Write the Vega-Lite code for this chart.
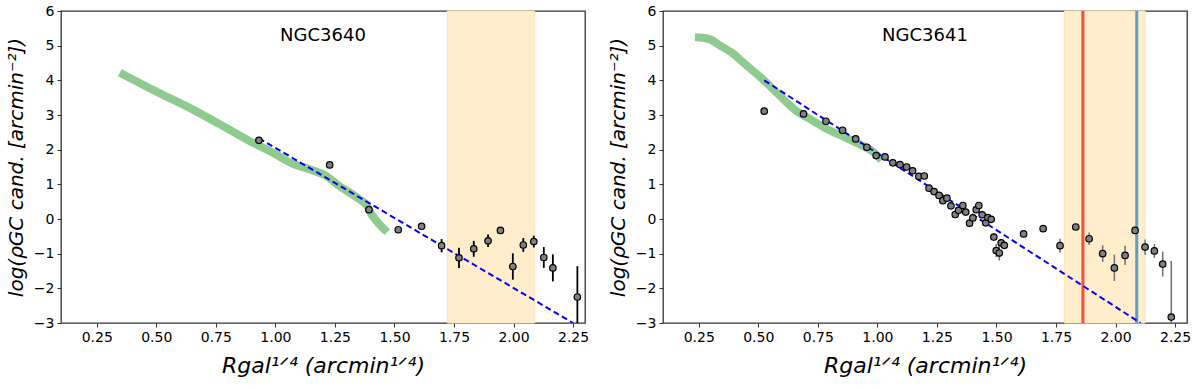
{
  "$schema": "https://vega.github.io/schema/vega-lite/v6.json",
  "background": "white",
  "padding": {"left": 5, "top": 3, "right": 5, "bottom": 5},
  "spacing": 78,
  "bounds": "flush",
  "config": {
    "view": {"stroke": "#333333", "strokeWidth": 1.3},
    "font": "DejaVu Sans",
    "axis": {
      "domain": false,
      "grid": false,
      "ticks": true,
      "tickColor": "#333333",
      "tickSize": 4,
      "tickWidth": 1,
      "labelFont": "DejaVu Sans",
      "labelFontSize": 14,
      "labelColor": "black",
      "labelPadding": 3,
      "labelOverlap": false,
      "labelBound": false,
      "labelFlush": false,
      "titleFont": "DejaVu Sans",
      "titleFontSize": 20,
      "titleFontWeight": "normal",
      "titleFontStyle": "italic",
      "titleColor": "black"
    }
  },
  "datasets": {
    "shade1": [{"x": 1.722, "x2": 2.089}],
    "shade2": [{"x": 1.786, "x2": 2.124}],
    "vlines": [{"x": 1.863, "kind": "red"}, {"x": 2.089, "kind": "blue"}],
    "label1": [{"x": 1.2, "y": 5.28, "label": "NGC3640"}],
    "label2": [{"x": 1.2, "y": 5.28, "label": "NGC3641"}],
    "fit1": [{"x": 0.931, "y": 2.33}, {"x": 2.25, "y": -3.0}],
    "fit2": [{"x": 0.525, "y": 4.0}, {"x": 2.105, "y": -3.0}],
    "curve1": [
      {"x": 0.347, "y": 4.22}, {"x": 0.511, "y": 3.64}, {"x": 0.65, "y": 3.17}, {"x": 0.791, "y": 2.64},
      {"x": 0.889, "y": 2.26}, {"x": 0.987, "y": 1.92}, {"x": 1.071, "y": 1.6}, {"x": 1.141, "y": 1.44},
      {"x": 1.211, "y": 1.25}, {"x": 1.267, "y": 0.96}, {"x": 1.351, "y": 0.58}, {"x": 1.379, "y": 0.43},
      {"x": 1.407, "y": 0.1}, {"x": 1.435, "y": -0.14}, {"x": 1.47, "y": -0.38}
    ],
    "curve2": [
      {"x": 0.234, "y": 5.24}, {"x": 0.29, "y": 5.2}, {"x": 0.34, "y": 5.0}, {"x": 0.388, "y": 4.8}, {"x": 0.444, "y": 4.47},
      {"x": 0.514, "y": 4.06}, {"x": 0.584, "y": 3.6}, {"x": 0.654, "y": 3.15}, {"x": 0.723, "y": 2.86},
      {"x": 0.793, "y": 2.58}, {"x": 0.863, "y": 2.36}, {"x": 0.933, "y": 2.13}, {"x": 0.989, "y": 1.9},
      {"x": 1.017, "y": 1.7}
    ],
    "pts1": [
      {"x": 0.931, "y": 2.27}, {"x": 1.228, "y": 1.56}, {"x": 1.393, "y": 0.27},
      {"x": 1.516, "y": -0.31, "lo": -0.39, "hi": -0.23},
      {"x": 1.614, "y": -0.21, "lo": -0.29, "hi": -0.13},
      {"x": 1.698, "y": -0.77, "lo": -0.96, "hi": -0.58},
      {"x": 1.771, "y": -1.12, "lo": -1.41, "hi": -0.83},
      {"x": 1.833, "y": -0.86, "lo": -1.09, "hi": -0.63},
      {"x": 1.893, "y": -0.63, "lo": -0.81, "hi": -0.45},
      {"x": 1.945, "y": -0.33, "lo": -0.43, "hi": -0.23},
      {"x": 1.997, "y": -1.37, "lo": -1.75, "hi": -0.99},
      {"x": 2.041, "y": -0.75, "lo": -0.95, "hi": -0.55},
      {"x": 2.085, "y": -0.65, "lo": -0.82, "hi": -0.48},
      {"x": 2.127, "y": -1.11, "lo": -1.41, "hi": -0.81},
      {"x": 2.165, "y": -1.41, "lo": -1.8, "hi": -1.02},
      {"x": 2.268, "y": -2.25, "lo": -3.4, "hi": -1.36}
    ],
    "pts2": [
      {"x": 0.525, "y": 3.11}, {"x": 0.69, "y": 3.03}, {"x": 0.784, "y": 2.82}, {"x": 0.854, "y": 2.56},
      {"x": 0.909, "y": 2.31}, {"x": 0.956, "y": 2.07}, {"x": 0.995, "y": 1.83}, {"x": 1.032, "y": 1.79},
      {"x": 1.065, "y": 1.62}, {"x": 1.095, "y": 1.57}, {"x": 1.123, "y": 1.5}, {"x": 1.148, "y": 1.39},
      {"x": 1.174, "y": 1.23}, {"x": 1.197, "y": 1.24}, {"x": 1.217, "y": 0.89}, {"x": 1.238, "y": 0.79},
      {"x": 1.259, "y": 0.68}, {"x": 1.275, "y": 0.53}, {"x": 1.292, "y": 0.6}, {"x": 1.309, "y": 0.38},
      {"x": 1.327, "y": 0.13}, {"x": 1.341, "y": 0.25}, {"x": 1.359, "y": 0.39}, {"x": 1.371, "y": 0.2},
      {"x": 1.387, "y": -0.12}, {"x": 1.401, "y": 0.03}, {"x": 1.415, "y": 0.27}, {"x": 1.426, "y": 0.39},
      {"x": 1.44, "y": 0.12}, {"x": 1.455, "y": -0.11}, {"x": 1.464, "y": 0.04}, {"x": 1.478, "y": -0.01},
      {"x": 1.489, "y": -0.52, "lo": -0.62, "hi": -0.42},
      {"x": 1.499, "y": -0.91, "lo": -1.1, "hi": -0.72},
      {"x": 1.512, "y": -0.98, "lo": -1.2, "hi": -0.76},
      {"x": 1.52, "y": -0.69, "lo": -0.79, "hi": -0.59},
      {"x": 1.533, "y": -0.76, "lo": -0.84, "hi": -0.68},
      {"x": 1.614, "y": -0.43, "lo": -0.51, "hi": -0.35},
      {"x": 1.696, "y": -0.28},
      {"x": 1.767, "y": -0.77, "lo": -0.97, "hi": -0.57},
      {"x": 1.833, "y": -0.23},
      {"x": 1.889, "y": -0.57, "lo": -0.75, "hi": -0.39},
      {"x": 1.946, "y": -1.0, "lo": -1.24, "hi": -0.76},
      {"x": 1.995, "y": -1.41, "lo": -1.79, "hi": -1.03},
      {"x": 2.04, "y": -1.05, "lo": -1.33, "hi": -0.77},
      {"x": 2.082, "y": -0.33, "lo": -0.41, "hi": -0.25},
      {"x": 2.124, "y": -0.81, "lo": -1.03, "hi": -0.59},
      {"x": 2.163, "y": -0.92, "lo": -1.12, "hi": -0.72},
      {"x": 2.198, "y": -1.3, "lo": -1.66, "hi": -0.94},
      {"x": 2.234, "y": -2.83, "lo": -4.4, "hi": -1.21}
    ]
  },
  "hconcat": [
    {
      "width": 524,
      "height": 312,
      "layer": [
        {"data": {"name": "shade1"}, "mark": {"type": "rect", "fill": "#ffedcc", "stroke": "#fde4b4", "strokeWidth": 1},
          "encoding": {
            "x": {"field": "x", "type": "quantitative", "scale": {"domain": [0.1, 2.3], "nice": false, "zero": false},
              "axis": {"values": [0.25, 0.5, 0.75, 1.0, 1.25, 1.5, 1.75, 2.0, 2.25], "format": ".2f", "title": "Rgal¹ᐟ⁴ (arcmin¹ᐟ⁴)", "titleFontSize": 22, "titlePadding": 11}},
            "x2": {"field": "x2"}}},
        {"data": {"name": "curve1"}, "mark": {"type": "line", "color": "#8fcb8f", "strokeWidth": 8, "clip": true, "interpolate": "monotone"},
          "encoding": {
            "x": {"field": "x", "type": "quantitative", "title": "Rgal¹ᐟ⁴ (arcmin¹ᐟ⁴)"},
            "y": {"field": "y", "type": "quantitative", "scale": {"domain": [-3, 6], "nice": false, "zero": false},
              "axis": {"values": [-3, -2, -1, 0, 1, 2, 3, 4, 5, 6], "labelOverlap": false, "labelExpr": "replace(datum.label, '-', '−')", "title": "log(ρGC cand. [arcmin⁻²])", "titlePadding": 7}}}},
        {"data": {"name": "fit1"}, "mark": {"type": "line", "color": "#0000ff", "strokeWidth": 2, "strokeDash": [6, 3.5], "clip": true},
          "encoding": {
            "x": {"field": "x", "type": "quantitative", "title": "Rgal¹ᐟ⁴ (arcmin¹ᐟ⁴)"},
            "y": {"field": "y", "type": "quantitative",
              "axis": {"values": [-3, -2, -1, 0, 1, 2, 3, 4, 5, 6], "labelOverlap": false, "labelExpr": "replace(datum.label, '-', '−')", "title": "log(ρGC cand. [arcmin⁻²])", "titlePadding": 7}}}},
        {"data": {"name": "pts1"}, "transform": [{"filter": "datum.lo != null"}],
          "mark": {"type": "rule", "color": "black", "strokeWidth": 1.8, "clip": true},
          "encoding": {
            "x": {"field": "x", "type": "quantitative", "title": "Rgal¹ᐟ⁴ (arcmin¹ᐟ⁴)"},
            "y": {"field": "lo", "type": "quantitative",
              "axis": {"values": [-3, -2, -1, 0, 1, 2, 3, 4, 5, 6], "labelOverlap": false, "labelExpr": "replace(datum.label, '-', '−')", "title": "log(ρGC cand. [arcmin⁻²])", "titlePadding": 7}},
            "y2": {"field": "hi"}}},
        {"data": {"name": "pts1"}, "mark": {"type": "circle", "fill": "#808080", "stroke": "black", "strokeWidth": 1.2, "size": 42, "opacity": 1},
          "encoding": {
            "x": {"field": "x", "type": "quantitative", "title": "Rgal¹ᐟ⁴ (arcmin¹ᐟ⁴)"},
            "y": {"field": "y", "type": "quantitative",
              "axis": {"values": [-3, -2, -1, 0, 1, 2, 3, 4, 5, 6], "labelOverlap": false, "labelExpr": "replace(datum.label, '-', '−')", "title": "log(ρGC cand. [arcmin⁻²])", "titlePadding": 7}}}},
        {"data": {"name": "label1"}, "mark": {"type": "text", "fontSize": 18, "font": "DejaVu Sans", "color": "black"},
          "encoding": {
            "x": {"field": "x", "type": "quantitative", "title": "Rgal¹ᐟ⁴ (arcmin¹ᐟ⁴)"},
            "y": {"field": "y", "type": "quantitative",
              "axis": {"values": [-3, -2, -1, 0, 1, 2, 3, 4, 5, 6], "labelOverlap": false, "labelExpr": "replace(datum.label, '-', '−')", "title": "log(ρGC cand. [arcmin⁻²])", "titlePadding": 7}},
            "text": {"field": "label"}}}
      ]
    },
    {
      "width": 524,
      "height": 312,
      "layer": [
        {"data": {"name": "shade2"}, "mark": {"type": "rect", "fill": "#ffedcc", "stroke": "#fde4b4", "strokeWidth": 1},
          "encoding": {
            "x": {"field": "x", "type": "quantitative", "scale": {"domain": [0.1, 2.3], "nice": false, "zero": false},
              "axis": {"values": [0.25, 0.5, 0.75, 1.0, 1.25, 1.5, 1.75, 2.0, 2.25], "format": ".2f", "title": "Rgal¹ᐟ⁴ (arcmin¹ᐟ⁴)", "titleFontSize": 22, "titlePadding": 11}},
            "x2": {"field": "x2"}}},
        {"data": {"name": "curve2"}, "mark": {"type": "line", "color": "#8fcb8f", "strokeWidth": 8, "clip": true, "interpolate": "monotone"},
          "encoding": {
            "x": {"field": "x", "type": "quantitative", "title": "Rgal¹ᐟ⁴ (arcmin¹ᐟ⁴)"},
            "y": {"field": "y", "type": "quantitative", "scale": {"domain": [-3, 6], "nice": false, "zero": false},
              "axis": {"values": [-3, -2, -1, 0, 1, 2, 3, 4, 5, 6], "labelOverlap": false, "labelExpr": "replace(datum.label, '-', '−')", "title": "log(ρGC cand. [arcmin⁻²])", "titlePadding": 7}}}},
        {"data": {"name": "vlines"}, "mark": {"type": "rule", "strokeWidth": 3},
          "encoding": {
            "x": {"field": "x", "type": "quantitative", "title": "Rgal¹ᐟ⁴ (arcmin¹ᐟ⁴)"},
            "color": {"field": "kind", "type": "nominal", "scale": {"domain": ["red", "blue"], "range": ["#ff4a3a", "#5f9dc2"]}, "legend": null}}},
        {"data": {"name": "fit2"}, "mark": {"type": "line", "color": "#0000ff", "strokeWidth": 2, "strokeDash": [6, 3.5], "clip": true},
          "encoding": {
            "x": {"field": "x", "type": "quantitative", "title": "Rgal¹ᐟ⁴ (arcmin¹ᐟ⁴)"},
            "y": {"field": "y", "type": "quantitative",
              "axis": {"values": [-3, -2, -1, 0, 1, 2, 3, 4, 5, 6], "labelOverlap": false, "labelExpr": "replace(datum.label, '-', '−')", "title": "log(ρGC cand. [arcmin⁻²])", "titlePadding": 7}}}},
        {"data": {"name": "pts2"}, "transform": [{"filter": "datum.lo != null"}],
          "mark": {"type": "rule", "color": "#707070", "strokeWidth": 1.5, "clip": true},
          "encoding": {
            "x": {"field": "x", "type": "quantitative", "title": "Rgal¹ᐟ⁴ (arcmin¹ᐟ⁴)"},
            "y": {"field": "lo", "type": "quantitative",
              "axis": {"values": [-3, -2, -1, 0, 1, 2, 3, 4, 5, 6], "labelOverlap": false, "labelExpr": "replace(datum.label, '-', '−')", "title": "log(ρGC cand. [arcmin⁻²])", "titlePadding": 7}},
            "y2": {"field": "hi"}}},
        {"data": {"name": "pts2"}, "mark": {"type": "circle", "fill": "#808080", "stroke": "black", "strokeWidth": 1.2, "size": 42, "opacity": 1},
          "encoding": {
            "x": {"field": "x", "type": "quantitative", "title": "Rgal¹ᐟ⁴ (arcmin¹ᐟ⁴)"},
            "y": {"field": "y", "type": "quantitative",
              "axis": {"values": [-3, -2, -1, 0, 1, 2, 3, 4, 5, 6], "labelOverlap": false, "labelExpr": "replace(datum.label, '-', '−')", "title": "log(ρGC cand. [arcmin⁻²])", "titlePadding": 7}}}},
        {"data": {"name": "label2"}, "mark": {"type": "text", "fontSize": 18, "font": "DejaVu Sans", "color": "black"},
          "encoding": {
            "x": {"field": "x", "type": "quantitative", "title": "Rgal¹ᐟ⁴ (arcmin¹ᐟ⁴)"},
            "y": {"field": "y", "type": "quantitative",
              "axis": {"values": [-3, -2, -1, 0, 1, 2, 3, 4, 5, 6], "labelOverlap": false, "labelExpr": "replace(datum.label, '-', '−')", "title": "log(ρGC cand. [arcmin⁻²])", "titlePadding": 7}},
            "text": {"field": "label"}}}
      ]
    }
  ]
}
